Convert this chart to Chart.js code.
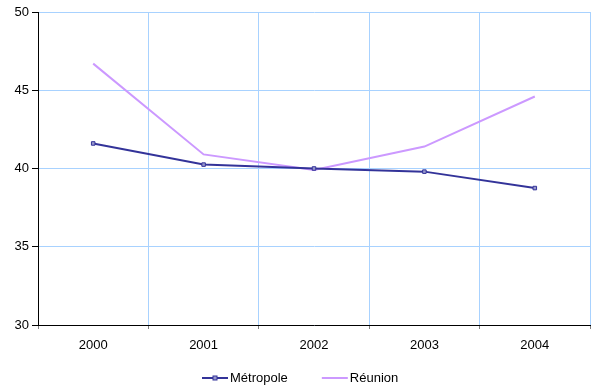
<!DOCTYPE html>
<html>
<head>
<meta charset="utf-8">
<script src="https://cdn.jsdelivr.net/npm/chart.js@4"></script>
<style>
  html, body { margin: 0; padding: 0; background: #fff; }
  #wrap { width: 595px; height: 387px; }
</style>
</head>
<body>
<div id="wrap"><canvas id="c" width="595" height="387"></canvas></div>
<script>
// Years on the horizontal axis
const years = ['2000', '2001', '2002', '2003', '2004'];
// Series values
const metropole = [41.6, 40.25, 40.0, 39.8, 38.75];
const reunion = [46.7, 40.9, 39.9, 41.4, 44.6];
// Vertical axis range and step
const yMin = 30, yMax = 50, yStep = 5;

const FAMILY = "'Liberation Sans', Arial, sans-serif";
const FONT = { family: FAMILY, size: 13 };
const BLUE = '#333399';
const MARK_FILL = '#9999cc';
const LILAC = '#cc99ff';
const GRID = '#a8d2ff';

// Legend under the plot: short line swatch (with the series marker if any) + name
const bottomLegend = {
  id: 'bottomLegend',
  afterDraw(chart) {
    const ctx = chart.ctx;
    const lineW = 26, textGap = 2, itemGap = 34, y = 378;
    ctx.save();
    ctx.font = '13px ' + FAMILY;
    const items = chart.data.datasets.map(ds => ({
      ds, w: lineW + textGap + ctx.measureText(ds.label).width
    }));
    const total = items.reduce((s, it) => s + it.w, 0) + itemGap * (items.length - 1);
    let x = Math.round(300.5 - total / 2);
    items.forEach(({ ds, w }) => {
      ctx.strokeStyle = ds.borderColor;
      ctx.lineWidth = 2;
      ctx.beginPath();
      ctx.moveTo(x, y);
      ctx.lineTo(x + lineW, y);
      ctx.stroke();
      if (ds.pointRadius > 0) {
        ctx.fillStyle = ds.backgroundColor;
        ctx.lineWidth = 1;
        ctx.fillRect(x + lineW / 2 - 2, y - 2, 4, 4);
        ctx.strokeRect(x + lineW / 2 - 2, y - 2, 4, 4);
      }
      ctx.fillStyle = '#000';
      ctx.textBaseline = 'middle';
      ctx.textAlign = 'left';
      ctx.fillText(ds.label, x + lineW + textGap, y);
      x += w + itemGap;
    });
    ctx.restore();
  }
};

new Chart(document.getElementById('c'), {
  type: 'line',
  data: {
    labels: years,
    datasets: [
      {
        label: 'Métropole',
        data: metropole,
        borderColor: BLUE,
        backgroundColor: MARK_FILL,
        borderWidth: 2,
        pointStyle: 'rect',
        pointRadius: 2.5,
        pointBorderWidth: 1,
        pointBorderColor: BLUE,
        tension: 0,
        fill: false
      },
      {
        label: 'Réunion',
        data: reunion,
        borderColor: LILAC,
        backgroundColor: LILAC,
        borderWidth: 2,
        pointRadius: 0,
        tension: 0,
        fill: false
      }
    ]
  },
  plugins: [bottomLegend],
  options: {
    responsive: false,
    animation: false,
    layout: { padding: { left: 0, right: 5, top: 12, bottom: 30 } },
    plugins: {
      tooltip: { enabled: false },
      legend: { display: false }
    },
    scales: {
      x: {
        type: 'category',
        offset: true,
        grid: {
          offset: true,
          color: GRID,
          lineWidth: 1,
          tickLength: 4,
          tickColor: '#808080',
          drawOnChartArea: true
        },
        border: { color: '#000', width: 1 },
        ticks: { font: FONT, color: '#000', padding: 9, maxRotation: 0 },
        afterFit(scale) { scale.height = 32; }
      },
      y: {
        min: yMin,
        max: yMax,
        grid: {
          color: GRID,
          lineWidth: 1,
          tickLength: 6,
          tickColor: '#000'
        },
        border: { color: '#000', width: 1 },
        ticks: { stepSize: yStep, font: FONT, color: '#000', padding: 3 },
        afterFit(scale) { scale.width = 38; }
      }
    }
  }
});
</script>
</body>
</html>
